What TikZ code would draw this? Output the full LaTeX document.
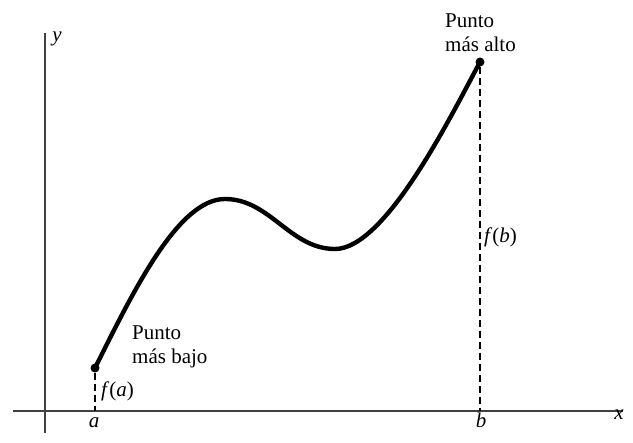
\documentclass[tikz,border=0pt]{standalone}
\usepackage{fontspec}
\setmainfont{Liberation Serif}
\begin{document}
\begin{tikzpicture}[x=1pt,y=-1pt,
  axis/.style={line width=1.5pt,black!75},
  guide/.style={line width=1.6pt,dash pattern=on 7pt off 4pt},
  curve/.style={line width=4.4pt,line cap=round},
  lbl/.style={font=\fontsize{21}{24}\selectfont,inner sep=0pt},
  dot/.style={circle,fill=black,inner sep=0pt,minimum size=9pt}]
\useasboundingbox (0,0) rectangle (633,443);
\coordinate (xl) at (13,411);
\coordinate (xr) at (623,411);
\coordinate (yb) at (45,433);
\coordinate (yt) at (45,33);
\draw[axis] (xl) -- (xr);
\draw[axis] (yb) -- (yt);
\node[dot] (A) at (95,368) {};
\node[dot] (B) at (480,62) {};
\coordinate (A0) at (95,411);
\coordinate (B0) at (480,411);
\coordinate (M1) at (225,199);
\coordinate (M2) at (335,249);
\draw[guide] (A) -- (A0);
\draw[guide] (B) -- (B0);
\draw[curve] (A.center) .. controls (133,292) and (178,199) .. (M1)
  .. controls (270,199) and (290,249) .. (M2)
  .. controls (385,249) and (450,118) .. (B.center);
\node[lbl,anchor=base west,align=left] (lo) at (132,364) {Punto\\más bajo};
\node[lbl,anchor=base west,align=left] (hi) at (445,52) {Punto\\más alto};
\node[lbl,anchor=base west] (fa) at (101,397) {\textit{f\/}(\textit{a})};
\node[lbl,anchor=base west] (fb) at (484,243) {\textit{f\/}(\textit{b})};
\node[lbl,anchor=base] (la) at (94,428) {\itshape a};
\node[lbl,anchor=base] (lb) at (481,428) {\itshape b};
\node[lbl,anchor=base] (lx) at (619,420) {\itshape x};
\node[lbl,anchor=base] (ly) at (57,42) {\itshape y};
\end{tikzpicture}
\end{document}
